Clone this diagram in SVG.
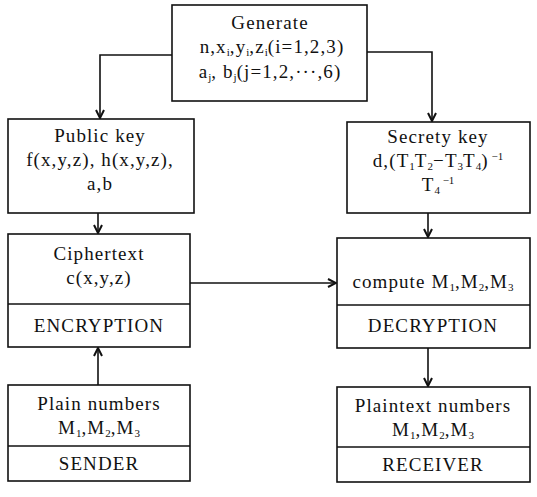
<svg xmlns="http://www.w3.org/2000/svg" width="537" height="497" viewBox="0 0 537 497">
<defs>
<marker id="ah" viewBox="0 0 10 10" refX="9" refY="5" markerWidth="10" markerHeight="10" markerUnits="userSpaceOnUse" orient="auto">
<path d="M1,1 L9,5 L1,9" fill="none" stroke="#111" stroke-width="2"/>
</marker>
<style>
rect.b{fill:#fff;stroke:#111;stroke-width:1.6}
line.d{stroke:#111;stroke-width:1.4}
text{font-family:"Liberation Serif","Times New Roman",serif;font-size:19px;fill:#111;text-anchor:middle;letter-spacing:1.1px}
tspan.s{font-size:11px;letter-spacing:0}
.c path{fill:none;stroke:#111;stroke-width:1.6;marker-end:url(#ah)}
</style>
</defs>
<rect width="537" height="497" fill="#fff"/>
<g id="generate">
<rect class="b" x="172" y="5" width="195" height="96"/>
<text x="270" y="29">Generate</text>
<text x="272" y="53">n,x<tspan class="s" dy="3">i</tspan><tspan dy="-3">,y</tspan><tspan class="s" dy="3">i</tspan><tspan dy="-3">,z</tspan><tspan class="s" dy="3">i</tspan><tspan dy="-3">(i=1,2,3)</tspan></text>
<text x="270" y="78">a<tspan class="s" dy="3">j</tspan><tspan dy="-3">, b</tspan><tspan class="s" dy="3">j</tspan><tspan dy="-3">(j=1,2,···,6)</tspan></text>
</g>
<g id="public-key">
<rect class="b" x="8" y="119" width="186" height="94"/>
<text x="100" y="142">Public key</text>
<text x="100" y="166">f(x,y,z), h(x,y,z),</text>
<text x="100" y="190">a,b</text>
</g>
<g id="secret-key">
<rect class="b" x="347" y="122" width="183" height="91"/>
<text x="438" y="143">Secrety key</text>
<text x="438" y="167">d,(T<tspan class="s" dy="3">1</tspan><tspan dy="-3">T</tspan><tspan class="s" dy="3">2</tspan><tspan dy="-3">−T</tspan><tspan class="s" dy="3">3</tspan><tspan dy="-3">T</tspan><tspan class="s" dy="3">4</tspan><tspan dy="-3">)</tspan><tspan class="s" dy="-7"> −1</tspan></text>
<text x="438" y="191">T<tspan class="s" dy="3">4</tspan><tspan class="s" dy="-10"> −1</tspan></text>
</g>
<g id="encryption">
<rect class="b" x="8" y="234" width="182" height="113"/>
<line class="d" x1="8" y1="304" x2="190" y2="304"/>
<text x="99" y="260">Ciphertext</text>
<text x="99" y="284">c(x,y,z)</text>
<text x="99" y="332">ENCRYPTION</text>
</g>
<g id="decryption">
<rect class="b" x="337" y="238" width="193" height="110"/>
<line class="d" x1="337" y1="305" x2="530" y2="305"/>
<text x="433" y="288">compute M<tspan class="s" dy="3">1</tspan><tspan dy="-3">,M</tspan><tspan class="s" dy="3">2</tspan><tspan dy="-3">,M</tspan><tspan class="s" dy="3">3</tspan></text>
<text x="433" y="332">DECRYPTION</text>
</g>
<g id="sender">
<rect class="b" x="8" y="385" width="182" height="96"/>
<line class="d" x1="8" y1="446" x2="190" y2="446"/>
<text x="99" y="410">Plain numbers</text>
<text x="99" y="434">M<tspan class="s" dy="3">1</tspan><tspan dy="-3">,M</tspan><tspan class="s" dy="3">2</tspan><tspan dy="-3">,M</tspan><tspan class="s" dy="3">3</tspan></text>
<text x="99" y="470">SENDER</text>
</g>
<g id="receiver">
<rect class="b" x="337" y="387" width="193" height="95"/>
<line class="d" x1="337" y1="447" x2="530" y2="447"/>
<text x="433" y="412">Plaintext numbers</text>
<text x="433" y="436">M<tspan class="s" dy="3">1</tspan><tspan dy="-3">,M</tspan><tspan class="s" dy="3">2</tspan><tspan dy="-3">,M</tspan><tspan class="s" dy="3">3</tspan></text>
<text x="433" y="471">RECEIVER</text>
</g>
<g id="connectors" class="c">
<path d="M172,55 H100 V118"/>
<path d="M367,52 H432 V121"/>
<path d="M98,213 V233"/>
<path d="M428,213 V237"/>
<path d="M190,283 H336"/>
<path d="M98,385 V348"/>
<path d="M428,348 V386"/>
</g>
</svg>
